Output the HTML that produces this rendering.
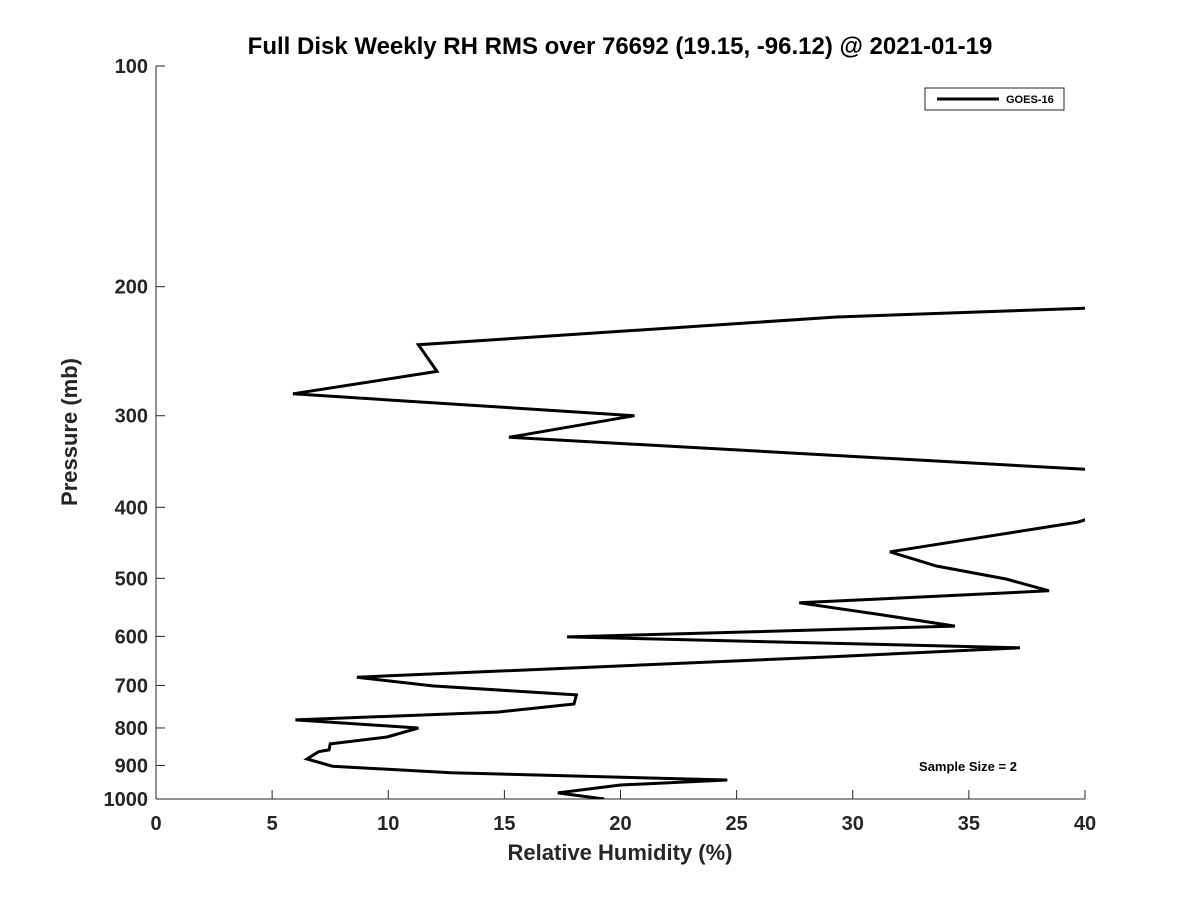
<!DOCTYPE html>
<html><head><meta charset="utf-8"><style>
body{margin:0;background:#fff;}
svg text{font-family:"Liberation Sans","DejaVu Sans",sans-serif;font-weight:bold;fill:#262626;}
</style></head><body>
<svg id="chart" width="1200" height="900">
<defs><clipPath id="plotclip"><rect x="156" y="66" width="929" height="733"/></clipPath></defs>
<text x="620" y="54" font-size="24" text-anchor="middle" style="fill:#000">Full Disk Weekly RH RMS over 76692 (19.15, -96.12) @ 2021-01-19</text>
<g id="axes"></g>
<g id="series" clip-path="url(#plotclip)"></g>
<g>
<rect x="925" y="88" width="139" height="22" fill="#fff" stroke="#262626" stroke-width="1"/>
<line x1="937" y1="99" x2="999" y2="99" stroke="#000" stroke-width="3"/>
<text x="1006" y="103" font-size="11" style="fill:#000">GOES-16</text>
</g>
<text x="968" y="771" font-size="13" text-anchor="middle" style="fill:#000">Sample Size = 2</text>
<text x="620" y="860" font-size="22" text-anchor="middle">Relative Humidity (%)</text>
<text x="0" y="0" font-size="22" text-anchor="middle" transform="translate(77,432) rotate(-90)">Pressure (mb)</text>
</svg>
<script>
const xTicks=[0,5,10,15,20,25,30,35,40];
const yTicks=[100,200,300,400,500,600,700,800,900,1000];
const rhValues=[40,29.3,11.3,12.1,5.9,20.6,15.2,40,48,40,39.7,31.6,33.6,36.6,38.45,27.7,31.3,34.4,17.7,37.2,29.0,8.65,11.9,18.1,18.0,14.7,6.0,11.3,9.95,7.5,7.45,7.0,6.5,7.6,12.7,24.6,20.0,17.3,19.3];
const pressures=[214,220,240,261,280,300,321,355,385,416,419,460,481,501,520,540,561,581,601,622,640,682,701,721,742,761,780,800,823,841,857,862,882,902,921,942,957,981,1000];
const L=156,R=1085,T=66,B=799;
const xs=v=>L+(v-0)/(40-0)*(R-L);
const ys=p=>T+Math.log10(p/100)*(B-T);
const NS="http://www.w3.org/2000/svg";
const ax=document.getElementById('axes');
function mk(tag,attrs,parent){const e=document.createElementNS(NS,tag);for(const k in attrs)e.setAttribute(k,attrs[k]);parent.appendChild(e);return e;}
const xl=mk('line',{x1:L,y1:B,x2:R,y2:B,stroke:'#262626','stroke-width':1},ax);


const yl=mk('line',{x1:L,y1:T,x2:L,y2:B,stroke:'#262626','stroke-width':1},ax);


xTicks.forEach(v=>{
 const x=xs(v);
 mk('line',{x1:x,y1:B,x2:x,y2:B-9,stroke:'#262626'},ax);
 const t=mk('text',{x:x,y:B+31,'font-size':20,'text-anchor':'middle'},ax);
 t.textContent=v;
 
 
});
yTicks.forEach(p=>{
 const y=ys(p);
 mk('line',{x1:L,y1:y,x2:L+9,y2:y,stroke:'#262626'},ax);
 const t=mk('text',{x:L-8,y:y+7,'font-size':20,'text-anchor':'end'},ax);
 t.textContent=p;
 
 
});
const d=rhValues.map((v,i)=>(i?'L':'M')+xs(v).toFixed(1)+','+ys(pressures[i]).toFixed(1)).join(' ');
const path=mk('path',{d:d,fill:'none',stroke:'#000','stroke-width':3,'stroke-linejoin':'miter'},document.getElementById('series'));


</script>
</body></html>
